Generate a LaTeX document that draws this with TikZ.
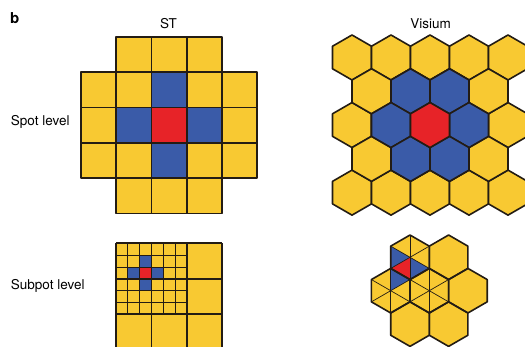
\documentclass[tikz,border=0pt]{standalone}
\usepackage{fontspec}
\setmainfont{TeX Gyre Heros}
\definecolor{spotyellow}{RGB}{248,201,50}
\definecolor{spotblue}{RGB}{58,91,168}
\definecolor{spotred}{RGB}{231,35,40}
\definecolor{gridline}{RGB}{35,28,20}

\begin{document}
\begin{tikzpicture}[
        x = 1pt, y = -1pt,
        font = \fontsize{13.5}{15}\selectfont,
        cell/.style = {draw = gridline, line width = 1.7pt, line join = round},
        subcell/.style = {draw = gridline, line width = 0.7pt},
        hexspot/.style = {draw = gridline, line width = 1.6pt, line join = round},
        hexcell/.pic = {\path[pic actions] (30:#1) -- (90:#1) -- (150:#1) -- (210:#1) -- (270:#1) -- (330:#1) -- cycle;},
        rowlabel/.style = {anchor = base west, inner sep = 0pt}
    ]
    \useasboundingbox (0,0) rectangle (525,347);

    \node[rowlabel, font = \fontsize{15}{17}\selectfont\bfseries] (panel) at (10,24) {b};
    \node[anchor = base, inner sep = 0pt] (st) at (168.5,28.3) {ST};
    \node[anchor = base, inner sep = 0pt] (visium) at (430.5,28.3) {Visium};
    \node[rowlabel] (spot) at (10.7,126) {Spot level};
    \node[rowlabel] (subspot) at (10.7,289.5) {Subpot level};

    % ST, spot level
    \begin{scope}[shift = {(80.8,37)}, x = 35.3pt, y = -35.3pt]
        \foreach \r/\a/\b in {0/1/3, 1/0/4, 2/0/4, 3/0/4, 4/1/3}
            \foreach \c in {\a,...,\b}
                \draw[cell, fill = spotyellow] (\c,\r) rectangle ++(1,1);
        \foreach \c/\r/\col in {2/1/spotblue, 1/2/spotblue, 3/2/spotblue, 2/3/spotblue, 2/2/spotred}
            \draw[cell, fill = \col] (\c,\r) rectangle ++(1,1);
    \end{scope}

    % ST, subspot level
    \begin{scope}[shift = {(116,243.3)}, x = 11.8pt, y = -11.8pt]
        \fill[spotyellow] (0,0) rectangle (9,9);
        \foreach \c/\r/\col in {2/1/spotblue, 1/2/spotblue, 3/2/spotblue, 2/3/spotblue, 2/2/spotred}
            \fill[\col] (\c,\r) rectangle ++(1,1);
        \foreach \i in {0,...,6}
            \draw[subcell] (\i,0) -- (\i,6) (0,\i) -- (6,\i);
        \foreach \i in {0,3,6,9}
            \draw[cell] (\i,0) -- (\i,9) (0,\i) -- (9,\i);
    \end{scope}

    % Visium, spot level
    \foreach \r in {0,2,4}
        \foreach \k in {0,...,4}
            \pic[hexspot, fill = spotyellow] at (352+39*\k, 57.5+33.78*\r) {hexcell=22.52};
    \foreach \r in {1,3}
        \foreach \k in {0,...,3}
            \pic[hexspot, fill = spotyellow] at (371.5+39*\k, 57.5+33.78*\r) {hexcell=22.52};
    \foreach \x/\y/\col in {410.5/91.28/spotblue, 449.5/91.28/spotblue, 391/125.06/spotblue,
                            469/125.06/spotblue, 410.5/158.84/spotblue, 449.5/158.84/spotblue,
                            430/125.06/spotred}
        \pic[hexspot, fill = \col] at (\x,\y) {hexcell=22.52};

    % Visium, subspot level
    \coordinate (ha) at (410,257.3);
    \coordinate (hb) at (448.6,257.3);
    \coordinate (hc) at (390.7,290.7);
    \coordinate (hd) at (429.3,290.7);
    \coordinate (he) at (467.9,290.7);
    \coordinate (hf) at (410,324.1);
    \coordinate (hg) at (448.6,324.1);
    \foreach \h in {ha,hb,hc,hd,he,hf,hg}
        \pic[fill = spotyellow] at (\h) {hexcell=22.29};
    \fill[spotred] (ha) -- +(90:22.29) -- +(150:22.29) -- cycle;
    \fill[spotblue] (ha) -- +(150:22.29) -- +(210:22.29) -- cycle;
    \fill[spotblue] (ha) -- +(90:22.29) -- +(30:22.29) -- cycle;
    \fill[spotblue] (hc) -- +(270:22.29) -- +(330:22.29) -- cycle;
    \foreach \h in {ha,hc,hd}
        \foreach \t in {30,90,150}
            \draw[subcell] (\h) +(\t:22.29) -- +(\t+180:22.29);
    \foreach \h in {ha,hb,hc,hd,he,hf,hg}
        \pic[hexspot] at (\h) {hexcell=22.29};
\end{tikzpicture}
\end{document}
